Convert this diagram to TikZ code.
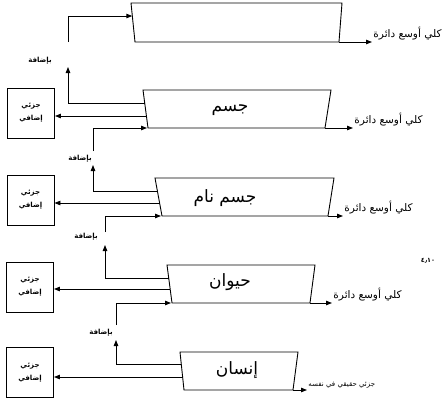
\documentclass[tikz,border=0pt]{standalone}
\usepackage{fontspec}
\newfontfamily\arabicfont[Script=Arabic]{DejaVu Sans}
\TeXXeTstate=1
\newcommand{\artext}[1]{\beginR #1\endR}
\usetikzlibrary{arrows.meta,calc}
\begin{document}
\begin{tikzpicture}[x=1pt,y=-1pt,line width=0.9pt,
  conn/.style={-{Triangle[length=6pt,width=4.5pt]}},
  boxnode/.style={draw,rectangle,minimum width=47pt,minimum height=50pt,inner sep=0pt,
    align=center,font=\arabicfont\bfseries\fontsize{7}{13}\selectfont},
  mainlbl/.style={font=\arabicfont\fontsize{17}{20}\selectfont,inner sep=0pt},
  outlbl/.style={font=\arabicfont\fontsize{10.5}{12}\selectfont,anchor=base west,inner sep=0pt},
  addlbl/.style={font=\arabicfont\bfseries\fontsize{7}{8}\selectfont,inner sep=0pt}
]
\useasboundingbox (0,0) rectangle (445,400);

% ---------- trapezoid 0 (empty) ----------
\coordinate (t0tl) at (131,3);  \coordinate (t0tr) at (342,3);
\coordinate (t0br) at (339,42); \coordinate (t0bl) at (135,42);
\draw (t0tl)--(t0tr)--(t0br)--(t0bl)--cycle;
\coordinate (t0in) at (132.3,16);
\coordinate (o0) at (372,42);
\draw[conn] (t0br) -- (o0);
\node[outlbl] (l0) at ($(o0)+(1,-4.5)$) {\arabicfont\artext{كلي أوسع دائرة}};

% ---------- trapezoid 1 ----------
\coordinate (t1tl) at (143,90);  \coordinate (t1tr) at (331,90);
\coordinate (t1br) at (325,128); \coordinate (t1bl) at (148,128);
\draw (t1tl)--(t1tr)--(t1br)--(t1bl)--cycle;
\node[mainlbl] (n1) at (230,110) {\arabicfont\artext{جسم}};
\coordinate (t1a) at (144.7,103);
\coordinate (t1b) at (146.4,116);
\coordinate (t1in) at (147,128);
\coordinate (o1) at (353,128);
\draw[conn] (t1br) -- (o1);
\node[outlbl] (l1) at ($(o1)+(1,-4.5)$) {\arabicfont\artext{كلي أوسع دائرة}};

\node[boxnode] (b1) at (31,113) {\artext{جزئي}\\\artext{إضافي}};
\draw[conn] (t1b) -- (t1b -| b1.east);

\coordinate (a1tip) at (68,67);
\coordinate (a1start) at (68,42);
\node[addlbl] (add1) at (40,61) {\arabicfont\artext{بإضافة}};
\draw[conn] (t1a) -| (a1tip);
\draw[conn] (a1start) |- (t0in);

% ---------- trapezoid 2 ----------
\coordinate (t2tl) at (155,178); \coordinate (t2tr) at (334,178);
\coordinate (t2br) at (328,216); \coordinate (t2bl) at (162,216);
\draw (t2tl)--(t2tr)--(t2br)--(t2bl)--cycle;
\node[mainlbl] (n2) at (225,198) {\arabicfont\artext{جسم نام}};
\coordinate (t2a) at (157.4,191);
\coordinate (t2b) at (159.6,203);
\coordinate (t2in) at (161,216);
\coordinate (o2) at (343,216);
\draw[conn] (t2br) -- (o2);
\node[outlbl] (l2) at ($(o2)+(1,-4.5)$) {\arabicfont\artext{كلي أوسع دائرة}};

\node[boxnode] (b2) at (30.5,200) {\artext{جزئي}\\\artext{إضافي}};
\draw[conn] (t2b) -- (t2b -| b2.east);

\coordinate (a2tip) at (93,165);
\coordinate (a2start) at (93,151);
\node[addlbl] (add2) at (80,159) {\arabicfont\artext{بإضافة}};
\draw[conn] (t2a) -| (a2tip);
\draw[conn] (a2start) |- (t1in);

% ---------- trapezoid 3 ----------
\coordinate (t3tl) at (167,265); \coordinate (t3tr) at (315,265);
\coordinate (t3br) at (310,303); \coordinate (t3bl) at (172,303);
\draw (t3tl)--(t3tr)--(t3br)--(t3bl)--cycle;
\node[mainlbl] (n3) at (230,282) {\arabicfont\artext{حيوان}};
\coordinate (t3a) at (168.7,278);
\coordinate (t3b) at (170.2,289);
\coordinate (t3in) at (171,303);
\coordinate (o3) at (332,303);
\draw[conn] (t3br) -- (o3);
\node[outlbl] (l3) at ($(o3)+(1,-4.5)$) {\arabicfont\artext{كلي أوسع دائرة}};

\node[boxnode] (b3) at (30,287) {\artext{جزئي}\\\artext{إضافي}};
\draw[conn] (t3b) -- (t3b -| b3.east);

\coordinate (a3tip) at (105,245);
\coordinate (a3start) at (105,232);
\node[addlbl] (add3) at (86,237) {\arabicfont\artext{بإضافة}};
\draw[conn] (t3a) -| (a3tip);
\draw[conn] (a3start) |- (t2in);

% ---------- trapezoid 4 ----------
\coordinate (t4tl) at (180,352); \coordinate (t4tr) at (298,352);
\coordinate (t4br) at (293,390); \coordinate (t4bl) at (184,390);
\draw (t4tl)--(t4tr)--(t4br)--(t4bl)--cycle;
\node[mainlbl] (n4) at (237,370) {\arabicfont\artext{إنسان}};
\coordinate (t4a) at (181.3,364);
\coordinate (t4b) at (182.6,377);
\coordinate (o4) at (307,390);
\draw[conn] (t4br) -- (o4);
\node[outlbl,font=\arabicfont\fontsize{7}{8}\selectfont] (l4) at ($(o4)+(1,-4)$) {\arabicfont\artext{جزئي حقيقي في نفسه}};

\node[boxnode] (b4) at (30,372.5) {\artext{جزئي}\\\artext{إضافي}};
\draw[conn] (t4b) -- (t4b -| b4.east);

\coordinate (a4tip) at (116,340);
\coordinate (a4start) at (116,325);
\node[addlbl] (add4) at (101,333) {\arabicfont\artext{بإضافة}};
\draw[conn] (t4a) -| (a4tip);
\draw[conn] (a4start) |- (t3in);

% ---------- figure number ----------
\node[font=\arabicfont\bfseries\fontsize{6.5}{8}\selectfont,inner sep=0pt] (fig) at (428,261) {٤٫١٠};
\end{tikzpicture}
\end{document}
